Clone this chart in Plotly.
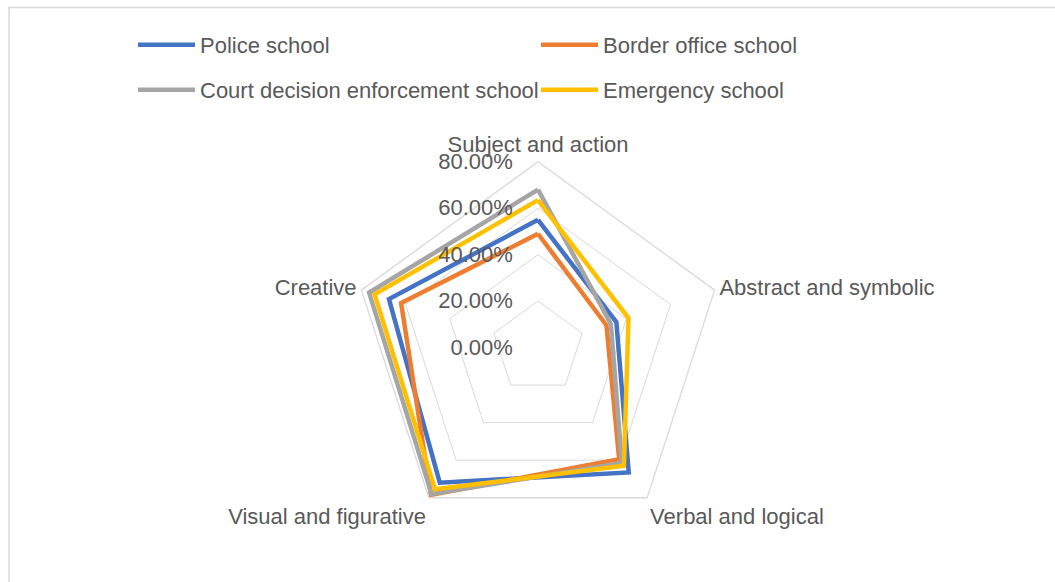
import plotly.graph_objects as go

# Thinking-style dimensions (clockwise from the top)
categories = [
    "Subject and action",
    "Abstract and symbolic",
    "Verbal and logical",
    "Visual and figurative",
    "Creative",
]

# Share of students per school (fractions)
police_school = [0.55, 0.355, 0.665, 0.72, 0.675]
border_office_school = [0.49, 0.31, 0.595, 0.785, 0.62]
court_enforcement_school = [0.68, 0.33, 0.615, 0.78, 0.765]
emergency_school = [0.635, 0.41, 0.63, 0.755, 0.74]

series = [
    ("Police school", police_school, "#4472C4", "legend"),
    ("Border office school", border_office_school, "#ED7D31", "legend"),
    ("Court decision enforcement school", court_enforcement_school, "#A5A5A5", "legend2"),
    ("Emergency school", emergency_school, "#FFC000", "legend2"),
]

TEXT = "#595959"
GRID = "#D9D9D9"
FONT = "Liberation Sans, Arial, sans-serif"
FS = 22

fig = go.Figure()
for name, values, color, leg in series:
    fig.add_trace(
        go.Scatterpolar(
            r=values + values[:1],
            theta=categories + categories[:1],
            mode="lines",
            name=name,
            line=dict(color=color, width=4.5),
            legend=leg,
        )
    )

W, H = 1055, 582
cx, cy, R = 538, 347.5, 185.7

legend_common = dict(
    orientation="h",
    font=dict(family=FONT, size=FS, color=TEXT),
    itemwidth=57,
    entrywidthmode="pixels",
    entrywidth=331,
    bgcolor="rgba(0,0,0,0)",
    xanchor="left",
    yanchor="middle",
    x=133 / W,
)

fig.update_layout(
    width=W,
    height=H,
    margin=dict(l=0, r=0, t=0, b=0),
    paper_bgcolor="white",
    font=dict(family=FONT, size=FS, color=TEXT),
    showlegend=True,
    legend=dict(legend_common, y=1 - 45 / H),
    legend2=dict(legend_common, y=1 - 90 / H),
    polar=dict(
        domain=dict(
            x=[(cx - R) / W, (cx + R) / W],
            y=[(H - cy - R) / H, (H - cy + R) / H],
        ),
        gridshape="linear",
        bgcolor="white",
        radialaxis=dict(
            range=[0, 0.8],
            dtick=0.2,
            tick0=0,
            tickformat=".2%",
            angle=90,
            tickangle=90,
            side="counterclockwise",
            showline=False,
            ticks="outside",
            ticklen=17,
            tickcolor="rgba(0,0,0,0)",
            gridcolor=GRID,
            gridwidth=1.3,
            tickfont=dict(family=FONT, size=FS, color=TEXT),
        ),
        angularaxis=dict(
            rotation=90,
            direction="clockwise",
            showgrid=False,
            showline=True,
            linecolor=GRID,
            linewidth=1.3,
            ticks="",
            tickfont=dict(family=FONT, size=FS, color=TEXT),
        ),
    ),
    shapes=[
        dict(
            type="rect",
            xref="paper",
            yref="paper",
            x0=9 / W,
            x1=1.01,
            y0=-0.05,
            y1=1 - 7.5 / H,
            line=dict(color=GRID, width=1.5),
            layer="below",
        )
    ],
)

fig.write_html("out.html")
